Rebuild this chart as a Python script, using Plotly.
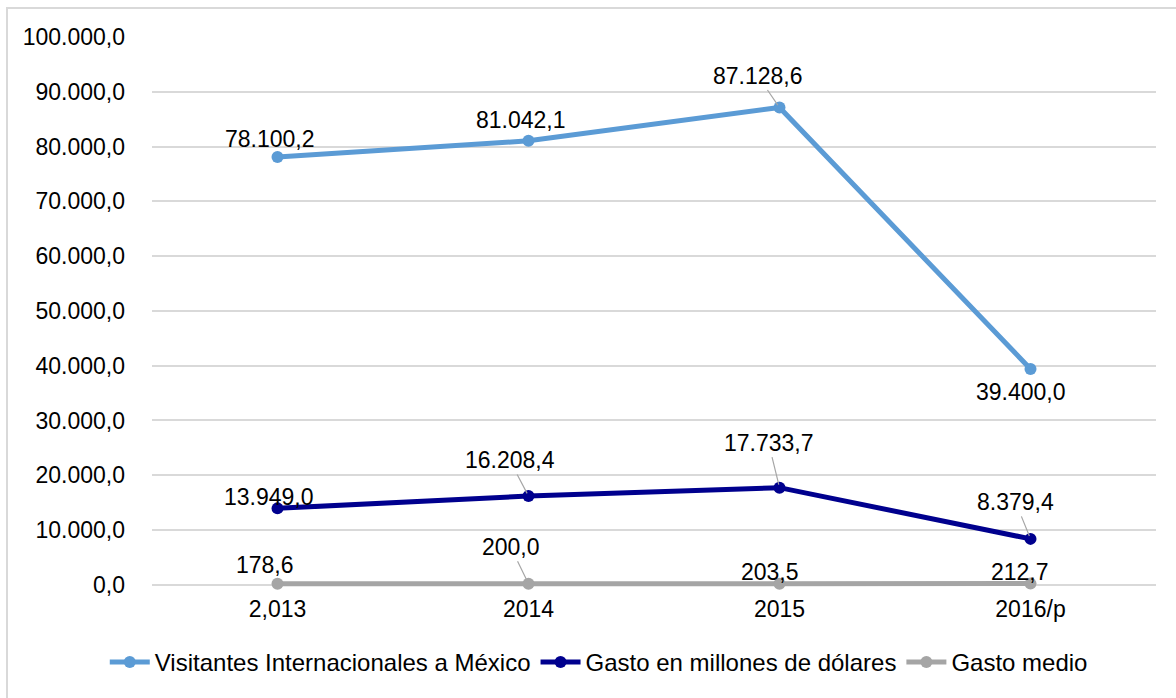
import plotly.graph_objects as go

# Categories and series values
years = ["2,013", "2014", "2015", "2016/p"]
visitantes = [78100.2, 81042.1, 87128.6, 39400.0]
gasto = [13949.0, 16208.4, 17733.7, 8379.4]
gasto_medio = [178.6, 200.0, 203.5, 212.7]

series_names = [
    "Visitantes Internacionales a México",
    "Gasto en millones de dólares",
    "Gasto medio",
]
series_values = [visitantes, gasto, gasto_medio]
series_colors = ["#5B9BD5", "#00008E", "#A5A5A5"]

# Label offsets in pixels (dx, dy; dy positive = downward) and whether a leader line is drawn
label_offsets = [
    [(-8, -18, False), (-8, -21, False), (-22, -32, True), (-10, 23, False)],
    [(-9, -11, False), (-19, -36, True), (-11, -45, True), (-15, -37, True)],
    [(-13, -19, False), (-18, -37, True), (-10, -12, False), (-11, -12, False)],
]

FONT = "Liberation Sans, Arial, sans-serif"
FS = 23
FS_LEGEND = 24

# y-axis span: a small pad under zero keeps the full width of the bottom line visible
Y_MIN, Y_MAX = -1500, 100000


def fmt_es(v):
    s = f"{v:,.1f}"
    return s.replace(",", "X").replace(".", ",").replace("X", ".")


fig = go.Figure()
for name, vals, color in zip(series_names, series_values, series_colors):
    fig.add_trace(
        go.Scatter(
            x=years,
            y=vals,
            name=name,
            mode="lines+markers",
            line=dict(color=color, width=5),
            marker=dict(color=color, size=12),
            cliponaxis=False,
        )
    )

# Data labels; x given as category index so numeric-looking names stay categorical
annotations = []
for vals, offs in zip(series_values, label_offsets):
    for i, (v, (dx, dy, leader)) in enumerate(zip(vals, offs)):
        base = dict(
            x=i, y=v, xref="x", yref="y", text=fmt_es(v),
            font=dict(family=FONT, size=FS, color="#000000"),
        )
        if leader:
            base.update(
                showarrow=True, arrowhead=0, arrowwidth=1.2,
                arrowcolor="#A6A6A6", ax=dx, ay=dy, standoff=3,
            )
        else:
            base.update(showarrow=False, xshift=dx, yshift=-dy)
        annotations.append(base)

fig.update_layout(
    width=1176,
    height=698,
    paper_bgcolor="white",
    plot_bgcolor="white",
    separators=",.",
    margin=dict(l=152, r=20, t=37, b=105),
    font=dict(family=FONT, size=FS, color="#000000"),
    annotations=annotations,
    showlegend=True,
    legend=dict(
        orientation="h",
        x=0.445,
        xanchor="center",
        y=-0.125,
        yanchor="middle",
        font=dict(family=FONT, size=FS_LEGEND, color="#000000"),
        itemwidth=40,
        tracegroupgap=0,
    ),
    shapes=[
        dict(
            type="rect", xref="paper", yref="paper",
            x0=-0.1444, x1=1.05, y0=-0.25, y1=1.052,
            line=dict(color="#D9D9D9", width=2), fillcolor="rgba(0,0,0,0)",
            layer="below",
        )
    ],
)

fig.update_xaxes(
    type="category",
    range=[-0.5, 3.5],
    showgrid=False,
    showline=False,
    ticks="",
    tickfont=dict(family=FONT, size=FS, color="#000000"),
)
fig.update_yaxes(
    range=[Y_MIN, Y_MAX],
    tick0=0,
    dtick=10000,
    tickformat=",.1f",
    showgrid=True,
    gridcolor="#D9D9D9",
    gridwidth=2,
    zeroline=True,
    zerolinecolor="#D9D9D9",
    zerolinewidth=2,
    showline=False,
    ticks="",
    ticklabelstandoff=26,
    tickfont=dict(family=FONT, size=FS, color="#000000"),
)

fig.write_html("out.html")
